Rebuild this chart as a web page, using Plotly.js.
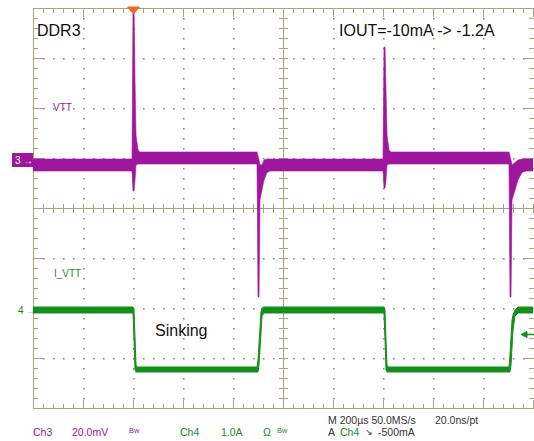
<!DOCTYPE html>
<html><head><meta charset="utf-8">
<script src="https://cdn.plot.ly/plotly-3.0.1.min.js"></script>
<style>html,body{margin:0;padding:0;background:#fff}#chart{width:534px;height:441px}</style>
</head><body><div id="chart"></div>
<script>
// Time in microseconds (trigger at t = 0), 200 us/div
const vttTime = [-400, -4, 0, 4, 8, 12, 20, 28, 496, 500, 504, 508, 516, 524, 536, 548, 1000, 1004, 1008, 1012, 1016, 1024, 1032, 1504, 1508, 1512, 1516, 1528, 1540, 1556, 1572, 1600];
// VTT deviation (mV), upper and lower envelope of the noisy trace, 20 mV/div
const vttHigh = [0.4, 0.4, 60.8, 60.8, 32, 10, 4, 3.2, 3.2, 2, 0, -2, -2, 0, 0.4, 0.4, 0.4, 45.2, 45.2, 28, 10, 4, 3.2, 3.2, 2, 0, -2, -1, 0, 0.4, 0.4, 0.4];
const vttLow  = [-4.4, -4.4, -12.4, -12.4, -8, -2, -1.6, -1.6, -1.6, -54.8, -54.8, -16, -12, -8, -5, -4.4, -4.4, -11.2, -11.2, -8, -2, -1.6, -1.6, -1.6, -54.8, -54.8, -16, -12, -8, -5, -4.4, -4.4];
// I_VTT current (A), upper and lower envelope, 1 A/div
const curTime = [-400, 0, 4, 8, 12, 16, 496, 500, 504, 508, 512, 516, 524, 1004, 1008, 1012, 1016, 1020, 1504, 1508, 1512, 1516, 1520, 1528, 1540, 1600];
const curHigh = [0.06, 0.06, 0, -0.6, -1.1, -1.14, -1.14, -1.0, -0.6, -0.2, -0.04, 0.04, 0.06, 0.06, 0, -0.6, -1.1, -1.14, -1.14, -0.9, -0.5, -0.2, -0.1, 0.0, 0.06, 0.06];
const curLow  = [-0.06, -0.06, -0.6, -1.2, -1.24, -1.24, -1.24, -1.24, -1.1, -0.7, -0.3, -0.12, -0.06, -0.06, -0.6, -1.2, -1.24, -1.24, -1.24, -1.24, -1.1, -0.7, -0.4, -0.12, -0.06, -0.06];

const PURPLE = '#9d169d';
const GREEN = '#14901a';
const TAN = '#aaa182';
const DOTS = '#8e8872';

const data = [
  {x: vttTime, y: vttHigh, type: 'scatter', mode: 'lines', line: {color: PURPLE, width: 0.6}, hoverinfo: 'skip'},
  {x: vttTime, y: vttLow, type: 'scatter', mode: 'lines', line: {color: PURPLE, width: 0.6}, fill: 'tonexty', fillcolor: PURPLE, hoverinfo: 'skip'},
  {x: curTime, y: curHigh, yaxis: 'y2', type: 'scatter', mode: 'lines', line: {color: GREEN, width: 1}, hoverinfo: 'skip'},
  {x: curTime, y: curLow, yaxis: 'y2', type: 'scatter', mode: 'lines', line: {color: GREEN, width: 1}, fill: 'tonexty', fillcolor: GREEN, hoverinfo: 'skip'}
];

// pixel -> paper helpers (plot area 33..533 x 8..408)
const P = px => (px - 33) / 500;
const Q = py => (408 - py) / 400;

const shapes = [];
function seg(x0, y0, x1, y1, color, w) {
  shapes.push({type: 'line', xref: 'paper', yref: 'paper', x0: P(x0), y0: Q(y0), x1: P(x1), y1: Q(y1),
    line: {color: color || TAN, width: w || 1}, layer: 'below'});
}
// dotted graticule: small square dots
function dot(px, py) {
  shapes.push({type: 'rect', xref: 'paper', yref: 'paper', x0: P(px), x1: P(px + 1.6), y0: Q(py), y1: Q(py + 1.6),
    fillcolor: DOTS, line: {width: 0}, layer: 'below'});
}
for (let r = 1; r < 8; r++) {
  if (r === 4) continue;
  const py = 8 + 50 * r;
  for (let k = 1; k < 50; k++) dot(33 + 10 * k, py);
}
for (let c = 1; c < 10; c++) {
  if (c === 5) continue;
  const px = 33 + 50 * c;
  for (let k = 1; k < 40; k++) { if (k % 5 !== 0) dot(px, 8 + 10 * k); }
}
// frame
seg(33, 8.5, 533, 8.5);
seg(33, 408.5, 533, 408.5);
seg(33.5, 8, 33.5, 409);
// centre lines
seg(33, 208.5, 533, 208.5);
seg(283.5, 8, 283.5, 409);
// ticks along horizontal edges and centre
for (let i = 0; i <= 50; i++) {
  const x = 33.5 + 10 * i;
  const major = i % 5 === 0;
  const L = major ? 9 : 5;
  seg(x, 8, x, 8 + L);
  seg(x, 409, x, 409 - L);
  seg(x, 204, x, 213);
}
for (let j = 0; j <= 40; j++) {
  const y = 8.5 + 10 * j;
  const major = j % 5 === 0;
  const L = major ? 10 : 5;
  seg(33, y, 33 + L, y);
  seg(534, y, 534 - L, y);
  seg(279, y, 288, y);
}
// trigger position marker (top)
shapes.push({type: 'path', xref: 'paper', yref: 'paper',
  path: `M ${P(127.5)} ${Q(7)} L ${P(139.5)} ${Q(7)} L ${P(133.5)} ${Q(14)} Z`,
  fillcolor: '#f26a2b', line: {color: '#f26a2b', width: 1}});
// ch3 reference marker box
shapes.push({type: 'rect', xref: 'paper', yref: 'paper', x0: P(12), x1: P(33), y0: Q(167), y1: Q(153),
  fillcolor: PURPLE, line: {width: 0}});
// trigger level arrow (right)
seg(526, 334.5, 534, 334.5, GREEN, 1.5);
shapes.push({type: 'path', xref: 'paper', yref: 'paper',
  path: `M ${P(521)} ${Q(334.5)} L ${P(527)} ${Q(331.5)} L ${P(527)} ${Q(337.5)} Z`,
  fillcolor: GREEN, line: {color: GREEN, width: 1}});

const FONT = 'Liberation Sans, Arial, sans-serif';
const annotations = [];
function txt(text, px, py, color, size, xanchor) {
  annotations.push({text: text, xref: 'paper', yref: 'paper', x: P(px), y: Q(py),
    xanchor: xanchor || 'left', yanchor: 'middle', showarrow: false, borderpad: 0,
    font: {family: FONT, size: size, color: color}});
}
txt('DDR3', 36, 30, '#111', 16);
txt('IOUT=-10mA -> -1.2A', 338, 30, '#111', 16);
txt('Sinking', 154, 330, '#111', 16);
txt('VTT', 52, 107, PURPLE, 10);
txt('I_VTT', 53, 273, GREEN, 10);
txt('3 \u2192', 14, 160, '#ffffff', 10);
txt('4 \u2192', 17, 310, GREEN, 10);
// bottom status lines
txt('Ch3', 32, 432, PURPLE, 10.5);
txt('20.0mV', 71, 432, PURPLE, 10.5);
txt('Bw', 128, 430, PURPLE, 7.5);
txt('Ch4', 179, 432, GREEN, 10.5);
txt('1.0A', 220, 432, GREEN, 10.5);
txt('\u03A9', 262, 432, GREEN, 10.5);
txt('Bw', 276, 430, GREEN, 7.5);
txt('M 200\u00B5s 50.0MS/s', 327, 420, '#333', 10.5);
txt('20.0ns/pt', 434, 420, '#333', 10.5);
txt('A', 327, 432, '#333', 10.5);
txt('Ch4', 339, 432, GREEN, 10.5);
txt('\u2198', 364, 432, '#333', 9);
txt('-500mA', 377, 432, '#333', 10.5);

const layout = {
  width: 534, height: 441,
  margin: {l: 33, r: 1, t: 8, b: 33},
  paper_bgcolor: '#ffffff', plot_bgcolor: '#ffffff',
  showlegend: false,
  xaxis: {range: [-400, 1600], showgrid: false, zeroline: false, showticklabels: false, ticks: '',
    showline: false, fixedrange: true},
  yaxis: {range: [-99.2, 60.8], showgrid: false, zeroline: false, showticklabels: false, ticks: '',
    showline: false, fixedrange: true},
  yaxis2: {range: [-1.96, 6.04], overlaying: 'y', showgrid: false, zeroline: false, showticklabels: false,
    ticks: '', showline: false, fixedrange: true},
  shapes: shapes,
  annotations: annotations
};

Plotly.newPlot('chart', data, layout, {staticPlot: true, displayModeBar: false});
</script>
</body></html>
